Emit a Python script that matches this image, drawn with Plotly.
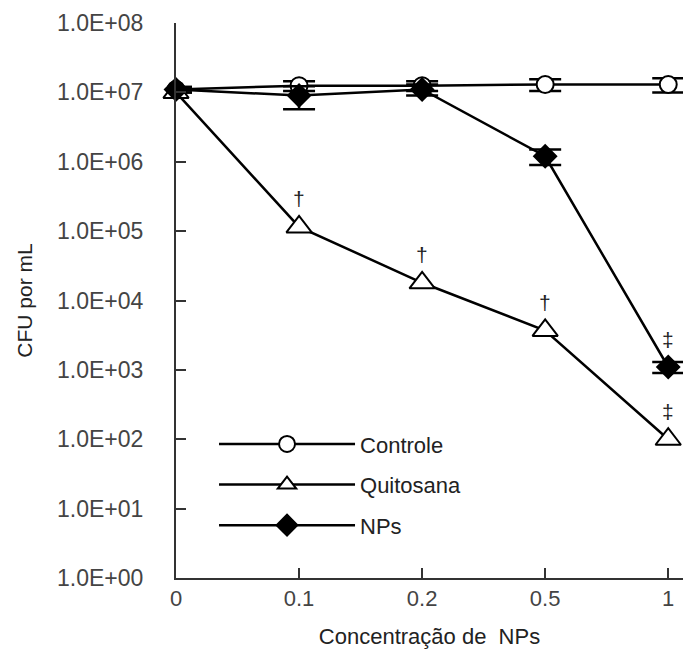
import plotly.graph_objects as go
import math

categories = ["0", "0.1", "0.2", "0.5", "1"]
controle = [1.1e7, 1.25e7, 1.25e7, 1.3e7, 1.3e7]
controle_err = [1.0e6, 2.0e6, 2.0e6, 2.5e6, 3.0e6]
quitosana = [1.0e7, 1.15e5, 1.8e4, 3.7e3, 1.0e2]
quitosana_err = [0, 0, 0, 0, 0]
nps = [1.1e7, 9.0e6, 1.1e7, 1.2e6, 1.1e3]
nps_err = [1.0e6, 3.3e6, 2.0e6, 3.0e5, 2.0e2]
ytick_vals = [1e0, 1e1, 1e2, 1e3, 1e4, 1e5, 1e6, 1e7, 1e8]
ytick_text = ["1.0E+00", "1.0E+01", "1.0E+02", "1.0E+03", "1.0E+04",
              "1.0E+05", "1.0E+06", "1.0E+07", "1.0E+08"]
# significance marks: (series, category index, symbol)
sig_marks = [("Quitosana", 1, "†"), ("Quitosana", 2, "†"), ("Quitosana", 3, "†"),
             ("Quitosana", 4, "‡"), ("NPs", 4, "‡")]

FONT = "Liberation Sans, Arial, sans-serif"
xpos = list(range(len(categories)))

fig = go.Figure()

def add_series(name, y, err, symbol, size, fill, group):
    fig.add_trace(go.Scatter(
        x=xpos, y=y, name=name, mode="lines+markers",
        line=dict(color="black", width=2.5),
        marker=dict(symbol=symbol, size=size, color=fill,
                    line=dict(color="black", width=2)),
        error_y=dict(type="data", array=err, symmetric=True, color="black",
                     thickness=2.5, width=16, visible=any(e > 0 for e in err)),
        cliponaxis=False, legendgroup=group,
    ))

add_series("Controle", controle, controle_err, "circle", 17, "white", "a")
add_series("Quitosana", quitosana, quitosana_err, "triangle-up", 22, "white", "b")
add_series("NPs", nps, nps_err, "diamond", 17, "black", "c")

series_map = {"Controle": controle, "Quitosana": quitosana, "NPs": nps}
for sname, idx, sym in sig_marks:
    fig.add_annotation(x=xpos[idx], y=math.log10(series_map[sname][idx]),
                       text=sym, showarrow=False, yshift=28,
                       font=dict(family=FONT, size=21, color="#222"))

fig.update_layout(
    width=685, height=655,
    margin=dict(l=176, r=2, t=23, b=77),
    paper_bgcolor="white", plot_bgcolor="white",
    font=dict(family=FONT, color="#333"),
    showlegend=True,
    legend=dict(x=0.075, y=0.279, xanchor="left", yanchor="top",
                bgcolor="rgba(0,0,0,0)", font=dict(size=22, color="#222"),
                tracegroupgap=9, itemwidth=136),
)

fig.update_xaxes(
    range=[0, 4.12], tickvals=xpos, ticktext=categories,
    showgrid=False, zeroline=False,
    showline=True, linecolor="#333", linewidth=2,
    ticks="inside", ticklen=10, tickwidth=2, tickcolor="#333",
    tickfont=dict(size=22, color="#444"),
    title=dict(text="Concentração de  NPs", font=dict(size=22, color="#222"), standoff=18),
)
fig.update_yaxes(
    type="log", range=[0, 8], tickvals=ytick_vals, ticktext=ytick_text,
    showgrid=False, zeroline=False,
    showline=True, linecolor="#333", linewidth=2,
    ticks="inside", ticklen=10, tickwidth=2, tickcolor="#333",
    tickfont=dict(size=23, color="#444"), ticklabelstandoff=26,
    title=dict(text="CFU por mL", font=dict(size=21, color="#222"), standoff=19),
)

fig.write_html("out.html", config={"displayModeBar": False},
               post_script="document.body.style.margin='0';")
